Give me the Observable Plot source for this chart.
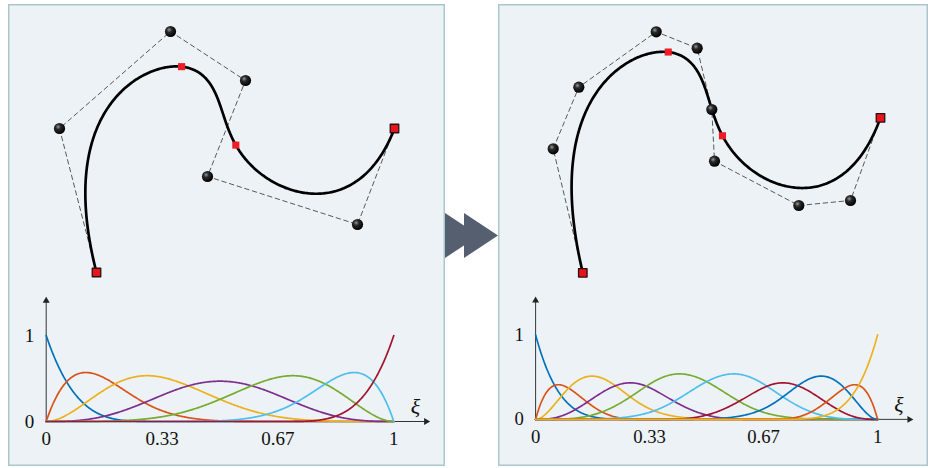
<!DOCTYPE html>
<html>
<head>
<meta charset="utf-8">
<script src="https://cdn.jsdelivr.net/npm/d3@7"></script>
<script src="https://cdn.jsdelivr.net/npm/@observablehq/plot@0.6"></script>
<style>
  body { margin: 0; background: #fff; }
  #root { position: relative; width: 928px; height: 468px; overflow: hidden; background: #fff; }
  .panel { position: absolute; top: 4px; height: 462px; background: #ecf2f5;
           box-shadow: inset 0 0 0 1.5px #aac7cd; overflow: hidden; }
  .panel > svg, .panel > figure { position: absolute; margin: 0; }
  #arrow { position: absolute; left: 0; top: 0; }
</style>
</head>
<body>
<svg width="0" height="0" style="position:absolute">
  <defs>
    <radialGradient id="ball" cx="38%" cy="35%" r="65%">
      <stop offset="0%" stop-color="#9a9a9a"/>
      <stop offset="35%" stop-color="#2a2a2a"/>
      <stop offset="100%" stop-color="#000"/>
    </radialGradient>
  </defs>
</svg>
<div id="root">
  <div class="panel" id="left" style="left:8px; width:437px;"></div>
  <div class="panel" id="right" style="left:498px; width:430px;"></div>
  <svg id="arrow" width="928" height="468">
    <polygon points="445,213 445,258 479,235.5" fill="#565f70"/>
    <polygon points="464,213 464,258 498,235.5" fill="#565f70"/>
  </svg>
</div>
<script>
// ---------- data ----------
const palette = ["#0072BD", "#D95319", "#EDB120", "#7E2F8E", "#77AC30", "#4DBEEE", "#A2142F"];
const degreeBefore = 4;
const degreeAfter = 5;
const knotsBefore = [0, 0, 0, 0, 0, 1/3, 2/3, 1, 1, 1, 1, 1];
const knotsAfter = [0, 0, 0, 0, 0, 0, 1/3, 1/3, 2/3, 2/3, 1, 1, 1, 1, 1, 1];
// control points (panel coordinates, y downward)
const ctrlBeforeX = [88, 51, 162, 237, 199, 349, 386];
const ctrlBeforeY = [268, 124, 27, 76, 172, 220, 124];
const ctrlAfterX = [84.3, 54.7, 80.3, 157.7, 198.7, 213.3, 216, 300.3, 352, 382];
const ctrlAfterY = [268.3, 144.3, 82.7, 27.3, 43.7, 105, 156.7, 201, 196, 113.3];
const markedKnots = [1/3, 2/3];
const xTicks = [0, 1/3, 2/3, 1];
const xTickLabels = ["0", "0.33", "0.67", "1"];
const yTicks = [0, 1];
const yTickLabels = ["0", "1"];
const axisLabel = "ξ";

// ---------- B-spline basis (Cox–de Boor) ----------
function basis(knots, p, u) {
  const m = knots.length - 1;
  let N = [];
  for (let i = 0; i < m; i++) {
    N.push(knots[i] <= u && u < knots[i + 1] ? 1 : 0);
  }
  if (u >= knots[m]) {
    for (let i = m - 1; i >= 0; i--) if (knots[i] < knots[i + 1]) { N[i] = 1; break; }
  }
  for (let k = 1; k <= p; k++) {
    const next = [];
    for (let i = 0; i < m - k; i++) {
      let a = 0, b = 0;
      const d1 = knots[i + k] - knots[i];
      const d2 = knots[i + k + 1] - knots[i + 1];
      if (d1 > 0) a = (u - knots[i]) / d1 * N[i];
      if (d2 > 0) b = (knots[i + k + 1] - u) / d2 * N[i + 1];
      next.push(a + b);
    }
    N = next;
  }
  return N;
}
const samples = d3.range(0, 401).map(i => i / 400);

function curvePoint(knots, p, cx, cy, u) {
  const N = basis(knots, p, u);
  let x = 0, y = 0;
  N.forEach((n, i) => { x += n * cx[i]; y += n * cy[i]; });
  return {x, y};
}

function drawPanel(el, knots, p, cx, cy, panelWidth) {
  const ctrl = cx.map((x, i) => ({x, y: cy[i]}));
  const curve = samples.map(u => curvePoint(knots, p, cx, cy, u));
  const marks = markedKnots.map(u => curvePoint(knots, p, cx, cy, u));
  const H = 285;
  const top = Plot.plot({
    width: panelWidth, height: H,
    margin: 0,
    x: {domain: [0, panelWidth], range: [0, panelWidth], axis: null},
    y: {domain: [0, H], range: [0, H], axis: null},
    style: "background: transparent; overflow: visible;",
    marks: [
      Plot.line(ctrl, {x: "x", y: "y", stroke: "#474747", strokeWidth: 0.9, strokeDasharray: "4.5,3.5"}),
      Plot.line(curve, {x: "x", y: "y", stroke: "#000", strokeWidth: 2.7}),
      Plot.dot(ctrl.slice(1, -1), {x: "x", y: "y", r: 5.6, fill: "url(#ball)", stroke: "none"}),
      Plot.dot(marks, {x: "x", y: "y", symbol: "square", r: 4, fill: "#ee1c24", stroke: "none"}),
      Plot.dot([ctrl[0], ctrl[ctrl.length - 1]], {x: "x", y: "y", symbol: "square", r: 4.8,
        fill: "#e8141b", stroke: "#2a1010", strokeWidth: 1.3, strokeLinejoin: "round"})
    ]
  });
  top.style.left = "0px"; top.style.top = "0px";
  el.appendChild(top);

  const nBasis = knots.length - p - 1;
  const rows = samples.map(u => basis(knots, p, u));
  const lines = d3.range(nBasis).map(i =>
    Plot.line(samples.map((u, j) => ({u, v: rows[j][i]})),
      {x: "u", y: "v", stroke: palette[i % palette.length], strokeWidth: 1.7}));
  const bottom = Plot.plot({
    width: 437, height: 176,
    marginLeft: 37.7, marginRight: 51.7, marginTop: 45, marginBottom: 45,
    x: {domain: [0, 1]},
    y: {domain: [0, 1]},
    style: "background: transparent; overflow: visible; font-family: 'Liberation Serif', 'DejaVu Serif', serif; font-size: 19px; color: #111;",
    marks: [
      Plot.ruleY([0], {x1: 0, x2: 1.09, stroke: "#333", strokeWidth: 1}),
      Plot.ruleX([0], {y1: 0, y2: 1.4, stroke: "#333", strokeWidth: 1}),
      Plot.dot([{x: 1.093, y: 0}], {x: "x", y: "y", symbol: "triangle", r: 2.6, rotate: 90, fill: "#222"}),
      Plot.dot([{x: 0, y: 1.405}], {x: "x", y: "y", symbol: "triangle", r: 2.6, rotate: 0, fill: "#222"}),
      ...lines,
      Plot.axisX(xTicks, {tickSize: 0, tickPadding: 10, tickFormat: (d, i) => xTickLabels[i], fontSize: 19, fill: "#111"}),
      Plot.axisY(yTicks, {tickSize: 0, tickPadding: 12, tickFormat: (d, i) => yTickLabels[i], fontSize: 19, fill: "#111"}),
      Plot.text([axisLabel], {x: 1.062, y: 0.17, text: d => d, fontStyle: "italic", fontSize: 22, fill: "#111"})
    ]
  });
  bottom.style.left = "0px"; bottom.style.top = "286px";
  el.appendChild(bottom);
}

drawPanel(document.getElementById("left"), knotsBefore, degreeBefore, ctrlBeforeX, ctrlBeforeY, 437);
drawPanel(document.getElementById("right"), knotsAfter, degreeAfter, ctrlAfterX, ctrlAfterY, 430);
</script>
</body>
</html>
